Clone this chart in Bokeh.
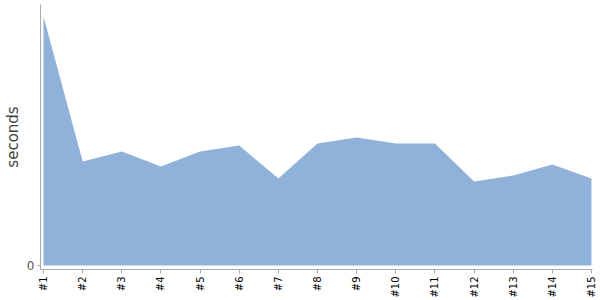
from bokeh.plotting import figure
from bokeh.models import FixedTicker, Range1d, ColumnDataSource
from bokeh.embed import file_html
from bokeh.resources import INLINE

categories = ["#1", "#2", "#3", "#4", "#5", "#6", "#7", "#8", "#9", "#10",
              "#11", "#12", "#13", "#14", "#15"]
seconds = [24.9, 10.4, 11.4, 9.9, 11.4, 12.0, 8.7, 12.2, 12.8, 12.2,
           12.2, 8.4, 9.0, 10.1, 8.7]

xs = list(range(1, len(categories) + 1))
src = ColumnDataSource(dict(x=xs, y=seconds, y0=[0] * len(xs)))

p = figure(width=600, height=300, output_backend="svg", toolbar_location=None,
           x_range=Range1d(0.923, 15.026), y_range=Range1d(-0.4, 26.1),
           min_border_left=40, min_border_right=8, min_border_top=4,
           min_border_bottom=31)
p.outline_line_color = None
p.background_fill_color = "white"
p.border_fill_color = "white"
p.grid.visible = False

p.varea(x="x", y1="y0", y2="y", source=src, fill_color="#8fb1da", fill_alpha=1.0)

p.xaxis.ticker = FixedTicker(ticks=xs)
p.xaxis.major_label_overrides = {i: c for i, c in zip(xs, categories)}
p.xaxis.major_label_orientation = 1.5708
p.xaxis.major_label_text_font_size = "10px"
p.xaxis.major_label_text_color = "#000000"
p.xaxis.major_label_text_font = "DejaVu Sans"
p.xaxis.axis_line_color = "#aaaaaa"
p.xaxis.major_tick_line_color = "#aaaaaa"
p.xaxis.major_tick_out = 4
p.xaxis.major_tick_in = 0
p.xaxis.minor_tick_line_color = None
p.xaxis.major_label_standoff = 3

p.yaxis.ticker = FixedTicker(ticks=[0])
p.yaxis.major_label_text_font_size = "12px"
p.yaxis.major_label_text_color = "#555555"
p.yaxis.major_label_text_font = "DejaVu Sans"
p.yaxis.axis_line_color = "#aaaaaa"
p.yaxis.major_tick_line_color = "#aaaaaa"
p.yaxis.major_tick_out = 3
p.yaxis.major_tick_in = 0
p.yaxis.minor_tick_line_color = None
p.yaxis.major_label_standoff = 3
p.yaxis.axis_label = "seconds"
p.yaxis.axis_label_text_font = "DejaVu Sans"
p.yaxis.axis_label_text_font_size = "15px"
p.yaxis.axis_label_text_font_style = "normal"
p.yaxis.axis_label_text_color = "#444444"
p.yaxis.axis_label_standoff = 2

open("out.html", "w").write(file_html(p, INLINE))
